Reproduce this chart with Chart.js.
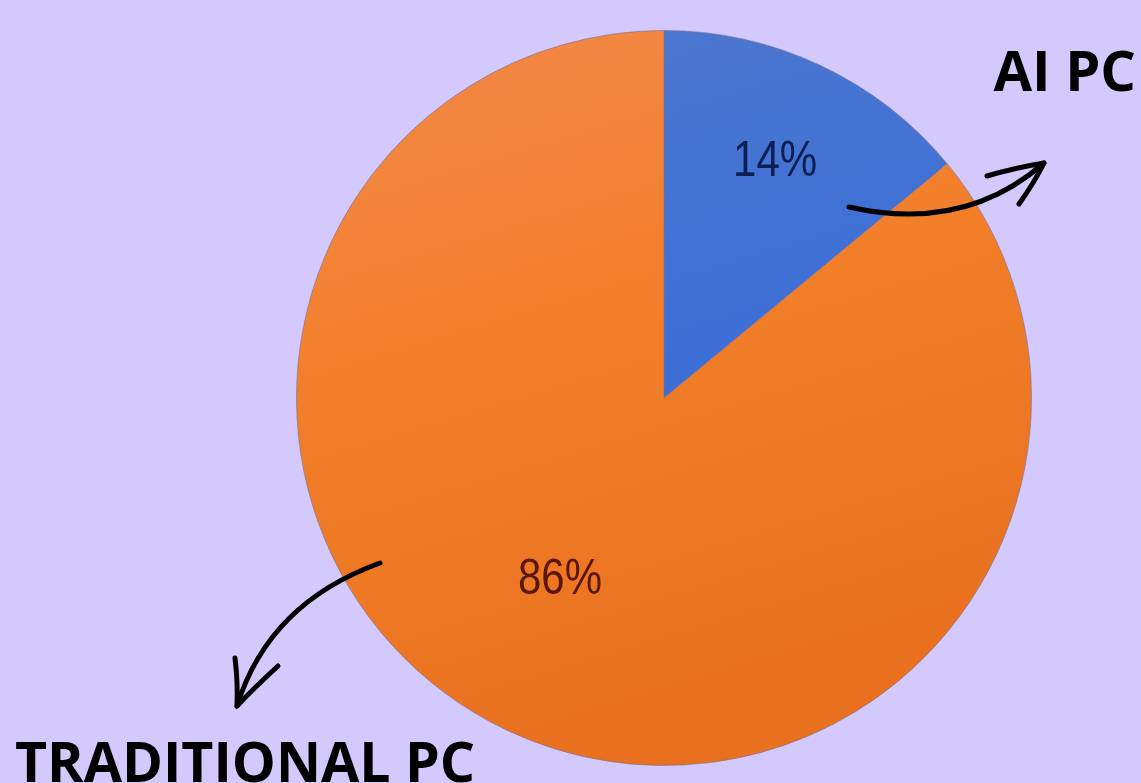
<!DOCTYPE html>
<html>
<head>
<meta charset="utf-8">
<script src="https://cdn.jsdelivr.net/npm/chart.js@4.4.1/dist/chart.umd.min.js"></script>
<style>
  html, body { margin: 0; padding: 0; background: #d3c9fc; overflow: hidden; }
  #chart { display: block; }
</style>
</head>
<body>
<canvas id="chart" width="1141" height="783"></canvas>
<script>
// datos del gráfico
const categorias = ["AI PC", "TRADITIONAL PC"];
const valores = [14, 86];
const etiquetasPct = ["14%", "86%"];
const coloresTexto = ["#0c1f52", "#5a1606"];
// radio relativo y giro (rad) de cada etiqueta dentro de su porción
const radioEtiqueta = [0.71, 0.57];
const giroEtiqueta = [0, 0.08];

function relleno(context) {
  const chart = context.chart;
  const area = chart.chartArea;
  if (!area) return context.dataIndex === 0 ? "#4a78d2" : "#f07c2c";
  const c = chart.ctx;
  const g = c.createLinearGradient(area.left, area.top, area.left + area.width * 0.3, area.bottom);
  if (context.dataIndex === 0) {
    g.addColorStop(0, "#5079cc");
    g.addColorStop(0.5, "#3f70d6");
    g.addColorStop(1, "#2f66d8");
  } else {
    g.addColorStop(0, "#f2894a");
    g.addColorStop(0.5, "#f27e28");
    g.addColorStop(1, "#e8701f");
  }
  return g;
}

// dibuja porcentajes, títulos y flechas
const anotaciones = {
  id: "anotaciones",
  afterDatasetsDraw(chart) {
    const ctx = chart.ctx;
    const arcs = chart.getDatasetMeta(0).data;
    const cx = arcs[0].x, cy = arcs[0].y, r = arcs[0].outerRadius;

    // porcentajes
    ctx.save();
    arcs.forEach((arc, i) => {
      const mid = (arc.startAngle + arc.endAngle) / 2 + giroEtiqueta[i];
      const x = cx + Math.cos(mid) * r * radioEtiqueta[i];
      const y = cy + Math.sin(mid) * r * radioEtiqueta[i];
      ctx.save();
      ctx.translate(x, y);
      ctx.scale(0.84, 1);
      ctx.font = "50px 'Liberation Sans'";
      ctx.fillStyle = coloresTexto[i];
      ctx.textAlign = "center";
      ctx.textBaseline = "middle";
      ctx.fillText(etiquetasPct[i], 0, 0);
      ctx.restore();
    });

    // títulos de las categorías
    ctx.fillStyle = "#000";
    ctx.font = "bold 56px 'Open Sans'";
    ctx.textBaseline = "alphabetic";
    ctx.textAlign = "right";
    ctx.fillText(categorias[0], 1136, 91);
    ctx.textAlign = "left";
    ctx.save();
    ctx.translate(15, 782);
    ctx.scale(0.99, 1);
    ctx.fillText(categorias[1], 0, 0);
    ctx.restore();

    // flechas a mano
    ctx.strokeStyle = "#000";
    ctx.lineCap = "round";
    ctx.lineJoin = "round";
    ctx.lineWidth = 5;

    // flecha AI PC
    ctx.beginPath();
    ctx.moveTo(cx + 185, cy - 191);
    ctx.quadraticCurveTo(cx + 300, cy - 165, cx + 380, cy - 235);
    ctx.stroke();
    ctx.beginPath();
    ctx.moveTo(cx + 323, cy - 222);
    ctx.quadraticCurveTo(cx + 350, cy - 230, cx + 380, cy - 235);
    ctx.quadraticCurveTo(cx + 370, cy - 215, cx + 355, cy - 194);
    ctx.stroke();

    // flecha TRADITIONAL PC
    ctx.beginPath();
    ctx.moveTo(cx - 284, cy + 165);
    ctx.quadraticCurveTo(cx - 395, cy + 205, cx - 427, cy + 308);
    ctx.stroke();
    ctx.beginPath();
    ctx.moveTo(cx - 429, cy + 260);
    ctx.quadraticCurveTo(cx - 426, cy + 285, cx - 427, cy + 308);
    ctx.quadraticCurveTo(cx - 410, cy + 290, cx - 386, cy + 268);
    ctx.stroke();
    ctx.restore();
  }
};

const chart = new Chart(document.getElementById("chart").getContext("2d"), {
  type: "pie",
  data: {
    labels: categorias,
    datasets: [{
      data: valores,
      backgroundColor: relleno,
      borderColor: "rgba(120,110,150,0.6)",
      borderWidth: 1
    }]
  },
  options: {
    responsive: false,
    animation: false,
    layout: { padding: { left: 296, right: 109, top: 30, bottom: 17 } },
    plugins: {
      legend: { display: false },
      tooltip: { enabled: false }
    }
  },
  plugins: [anotaciones]
});
</script>
</body>
</html>
